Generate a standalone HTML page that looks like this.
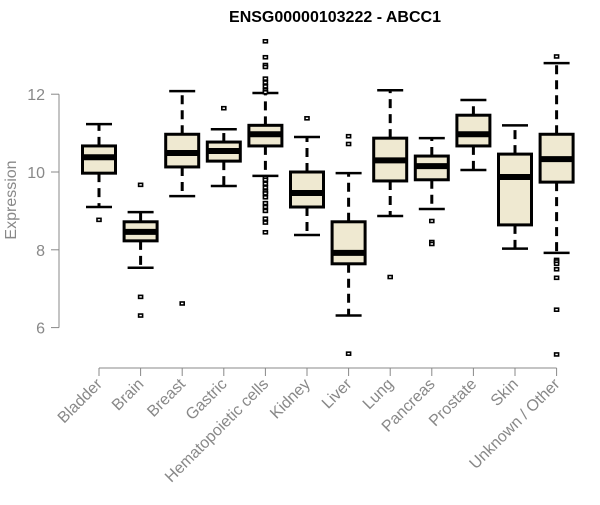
<!DOCTYPE html>
<html><head><meta charset="utf-8"><style>
body{margin:0;background:#fff}
svg{font-family:"Liberation Sans",sans-serif}
</style></head><body>
<svg id="c" width="600" height="500">
<text x="335" y="22" text-anchor="middle" font-weight="bold" font-size="16">ENSG00000103222 - ABCC1</text>
<text transform="translate(16,200) rotate(-90)" text-anchor="middle" font-size="16" fill="#888">Expression</text>
<g id="axes"></g><g id="plot"></g>
</svg>
<script>
const categories=["Bladder","Brain","Breast","Gastric","Hematopoietic cells","Kidney","Liver","Lung","Pancreas","Prostate","Skin","Unknown / Other"];
const whiskLow=[9.1,7.54,9.38,9.64,9.9,8.38,6.31,8.87,9.05,10.05,8.03,7.92];
const q1=[9.97,8.23,10.13,10.28,10.67,9.1,7.64,9.77,9.8,10.67,8.64,9.74];
const medians=[10.38,8.46,10.49,10.54,10.97,9.46,7.92,10.3,10.15,10.97,9.87,10.33];
const q3=[10.67,8.72,10.97,10.77,11.2,10.0,8.72,10.87,10.41,11.46,10.46,10.97];
const whiskHigh=[11.23,8.97,12.08,11.1,12.03,10.9,9.97,12.1,10.87,11.85,11.2,12.8];
const outliers=[[8.77],[9.67,6.79,6.31],[6.62],[11.64],
[13.36,12.95,12.75,12.7,12.4,12.3,12.2,12.1,12.05,9.85,9.8,9.7,9.6,9.5,9.45,9.35,9.2,9.1,9.0,8.8,8.7,8.45],
[11.38],[10.92,10.72,5.33],[7.3],[8.74,8.2,8.15],[],[],[12.97,7.74,7.7,7.64,7.5,7.28,6.46,5.31]];
const yTicks=[6,8,10,12];
const NS="http://www.w3.org/2000/svg";
const y=v=>172-(v-10)*38.9;
const x=i=>99+i*41.6;
function mk(t,a,p){const e=document.createElementNS(NS,t);for(const k in a)e.setAttribute(k,a[k]);p.appendChild(e);return e;}
const ax=document.getElementById('axes'),pl=document.getElementById('plot');
let l=mk('line',{x1:59,x2:59,y1:y(12),y2:y(6),stroke:'#888'},ax);


yTicks.forEach(t=>{
 const tk=mk('line',{x1:51,x2:59,y1:y(t),y2:y(t),stroke:'#888'},ax);
 
 
 const tx=mk('text',{x:45,y:y(t)+6,'text-anchor':'end','font-size':16,fill:'#888'},ax);tx.textContent=t;
 
 
});
l=mk('line',{x1:x(0),x2:x(11),y1:368,y2:368,stroke:'#888'},ax);


categories.forEach((c,i)=>{
 const cx=x(i);
 const tk=mk('line',{x1:cx,x2:cx,y1:368,y2:376,stroke:'#888'},ax);
 
 
 const tx=mk('text',{transform:`translate(${cx+4},${385}) rotate(-45)`,'text-anchor':'end','font-size':16,fill:'#888'},ax);tx.textContent=c;
 
 
 const g=mk('g',{},pl);
 
 
 mk('line',{x1:cx,x2:cx,y1:y(q3[i]),y2:y(whiskHigh[i]),stroke:'#000','stroke-width':3,'stroke-dasharray':'9,6'},g);
 mk('line',{x1:cx,x2:cx,y1:y(q1[i]),y2:y(whiskLow[i]),stroke:'#000','stroke-width':3,'stroke-dasharray':'9,6'},g);
 mk('line',{x1:cx-13,x2:cx+13,y1:y(whiskHigh[i]),y2:y(whiskHigh[i]),stroke:'#000','stroke-width':2.5},g);
 mk('line',{x1:cx-13,x2:cx+13,y1:y(whiskLow[i]),y2:y(whiskLow[i]),stroke:'#000','stroke-width':2.5},g);
 mk('rect',{x:cx-16.5,y:y(q3[i]),width:33,height:y(q1[i])-y(q3[i]),fill:'#efe9d1',stroke:'#000','stroke-width':3},g);
 mk('line',{x1:cx-16.5,x2:cx+16.5,y1:y(medians[i]),y2:y(medians[i]),stroke:'#000','stroke-width':6},g);
 outliers[i].forEach(o=>{
  const p=mk('rect',{x:cx-2,y:y(o)-1.5,width:4,height:3,fill:'#fff',stroke:'#000','stroke-width':1.6},g);
  
  
 });
});
</script>
</body></html>
